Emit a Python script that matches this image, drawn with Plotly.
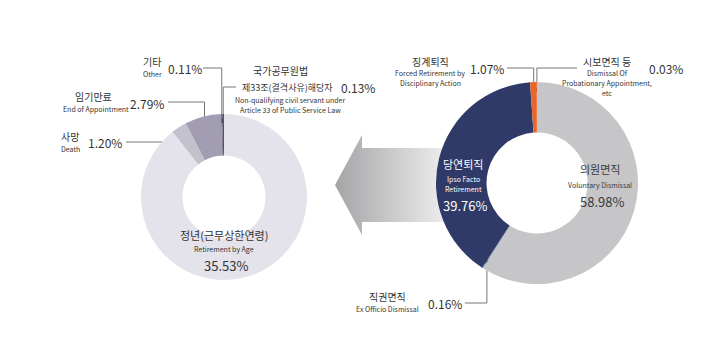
import math
import plotly.graph_objects as go

W, H = 720, 344
FONT = "Noto Sans CJK KR"

# ---------------- data ----------------
right_ko = ["의원면직", "직권면직", "당연퇴직", "징계퇴직", "시보면직 등"]
right_en = ["Voluntary Dismissal", "Ex Officio Dismissal", "Ipso Facto Retirement",
            "Forced Retirement by Disciplinary Action",
            "Dismissal Of Probationary Appointment, etc"]
right_vals = [58.98, 0.16, 39.76, 1.07, 0.03]
right_colors = ["#c6c6c9", "#8393b0", "#2f3a68", "#e8652b", "#f2946a"]

left_ko = ["정년(근무상한연령)", "사망", "임기만료", "기타", "국가공무원법 제33조(결격사유)해당자"]
left_en = ["Retirement by Age", "Death", "End of Appointment", "Other",
           "Non-qualifying civil servant under Article 33 of Public Service Law"]
left_vals = [35.53, 1.20, 2.79, 0.11, 0.13]
left_colors = ["#e4e2ea", "#c3c2cc", "#a29db3", "#77728d", "#55526a"]

# ---------------- layout geometry ----------------
R_CX, R_CY, R_R = 537, 183, 101
L_CX, L_CY, L_R = 224, 197, 83
HOLE = 0.5


def dom(cx, cy, r):
    return dict(x=[(cx - r) / W, (cx + r) / W],
                y=[(H - cy - r) / H, (H - cy + r) / H])


def slice_point(vals, idx, cx, cy, r, frac=0.92):
    tot = sum(vals)
    start = sum(vals[:idx]) / tot * 360
    mid = start + vals[idx] / tot * 360 / 2
    a = math.radians(mid)
    rr = r * frac
    return cx + math.sin(a) * rr, cy - math.cos(a) * rr


fig = go.Figure()

# gradient arrow (background, cartesian layer below pies)
ax = [335, 362, 362, 470, 470, 362, 362, 335]
ay = [185, 135, 148, 148, 222, 222, 235, 185]
fig.add_trace(go.Scatter(
    x=ax, y=ay, mode="lines", fill="toself", line=dict(width=0, color="rgba(0,0,0,0)"),
    fillgradient=dict(type="horizontal", start=335, stop=450,
                      colorscale=[[0, "#a4a4a7"], [1, "#f0f0f0"]]),
    hoverinfo="skip", showlegend=False))

fig.add_trace(go.Pie(
    values=right_vals, labels=right_ko, marker=dict(colors=right_colors, line=dict(width=0)),
    hole=HOLE, sort=False, direction="clockwise", rotation=0,
    textinfo="none", hoverinfo="skip", showlegend=False,
    domain=dom(R_CX, R_CY, R_R)))
fig.add_trace(go.Pie(
    values=left_vals, labels=left_ko, marker=dict(colors=left_colors, line=dict(width=0)),
    hole=HOLE, sort=False, direction="clockwise", rotation=0,
    textinfo="none", hoverinfo="skip", showlegend=False,
    domain=dom(L_CX, L_CY, L_R)))

ann = []


def txt(x, y, s, size, color="#333333", anchor="center"):
    ann.append(dict(x=x, y=y, xref="x", yref="y", text=s, showarrow=False,
                    xanchor=anchor, yanchor="middle",
                    font=dict(family=FONT, size=size, color=color)))


def pct(v):
    return f"{v:.2f}%"


def leader(x0, yline, px, py):
    fig.add_trace(go.Scatter(x=[x0, px, px], y=[yline, yline, py], mode="lines",
                             line=dict(color="#777777", width=1),
                             hoverinfo="skip", showlegend=False))
    fig.add_trace(go.Scatter(x=[px], y=[py], mode="markers",
                             marker=dict(color="#111111", size=4),
                             hoverinfo="skip", showlegend=False))


# ---- inside labels (right donut) ----
txt(600, 169, right_ko[0], 11, "#3a3a3a")
txt(600, 185, right_en[0], 7, "#3a3a3a")
txt(602, 201, pct(right_vals[0]), 13, "#3a3a3a")
txt(463, 164, right_ko[2], 11, "#ffffff")
txt(463, 179, "Ipso Facto", 7, "#ffffff")
txt(463, 189, "Retirement", 7, "#ffffff")
txt(465, 205, pct(right_vals[2]), 13, "#ffffff")

# ---- inside label (left donut) ----
txt(224, 235, left_ko[0], 11)
txt(224, 249, left_en[0], 7)
txt(226, 265, pct(left_vals[0]), 13)

# ---- left donut callouts ----
# 기타
txt(152, 61, left_ko[3], 10)
txt(152, 74, left_en[3], 7)
txt(185, 68, pct(left_vals[3]), 12)
px, py = slice_point(left_vals, 3, L_CX, L_CY, L_R)
leader(203, 68, px, py)
# 국가공무원법
txt(280, 70, "국가공무원법", 10)
txt(240, 87, "제33조(결격사유)해당자", 9, anchor="left")
txt(339, 87, pct(left_vals[4]), 12, anchor="left")
txt(290, 100, "Non-qualifying civil servant under", 7)
txt(290, 110, "Article 33 of Public Service Law", 7)
px, py = slice_point(left_vals, 4, L_CX, L_CY, L_R)
leader(236, 87, px, py)
# 임기만료
txt(93, 96, left_ko[2], 10)
txt(96, 109, left_en[2], 7)
txt(147, 103, pct(left_vals[2]), 12)
px, py = slice_point(left_vals, 2, L_CX, L_CY, L_R)
leader(168, 102, px, py)
# 사망
txt(70, 136, left_ko[1], 10)
txt(70, 149, left_en[1], 7)
txt(105, 142, pct(left_vals[1]), 12)
px, py = slice_point(left_vals, 1, L_CX, L_CY, L_R)
leader(126, 142, px, py)

# ---- right donut callouts ----
# 징계퇴직
txt(430, 61, right_ko[3], 10)
txt(430, 73, "Forced Retirement by", 7)
txt(430, 83, "Disciplinary Action", 7)
txt(487, 68, pct(right_vals[3]), 12)
px, py = slice_point(right_vals, 3, R_CX, R_CY, R_R)
leader(507, 68, px, py)
# 시보면직 등
txt(607, 61, right_ko[4], 10)
txt(607, 73, "Dismissal Of", 7)
txt(607, 83, "Probationary Appointment,", 7)
txt(607, 93, "etc", 7)
txt(666, 68, pct(right_vals[4]), 12)
px, py = slice_point(right_vals, 4, R_CX, R_CY, R_R)
leader(577, 68, px, py)
# 직권면직
px, py = slice_point(right_vals, 1, R_CX, R_CY, R_R)
lx = px - 22
txt(lx - 77, 296, right_ko[1], 10)
txt(lx - 77, 309, right_en[1], 7)
txt(lx - 20, 303, pct(right_vals[1]), 12)
leader(lx, 303, px, py)

fig.update_layout(
    width=W, height=H, margin=dict(l=0, r=0, t=0, b=0),
    paper_bgcolor="white", plot_bgcolor="rgba(0,0,0,0)",
    xaxis=dict(range=[0, W], visible=False, fixedrange=True),
    yaxis=dict(range=[H, 0], visible=False, fixedrange=True),
    annotations=ann,
)
fig.write_html("out.html")
